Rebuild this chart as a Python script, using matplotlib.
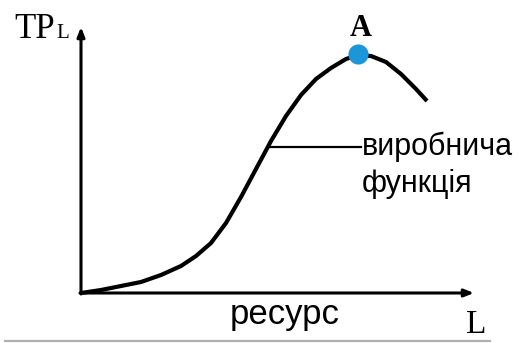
"""Total product curve (виробнича функція) sketch."""

import matplotlib

matplotlib.use("Agg")
import matplotlib.pyplot as plt

# curve (resource L, output TP)
labour = [0, 20, 40, 60, 80, 100, 115, 130, 145, 160, 175, 190, 205, 220, 235, 250,
          265, 277, 290, 305, 320, 335, 346]
output = [0, 3, 7, 11, 18, 27, 37, 50, 70, 96, 124, 152, 177, 198, 214, 225,
          234, 238, 237, 231, 219, 204, 192]
peak_l, peak_tp = 277, 239

fig = plt.figure(figsize=(5.22, 3.43), dpi=100)
ax = fig.add_axes([0, 0, 1, 1])
ax.set_xlim(-81, 441)
ax.set_ylim(-50, 293)
ax.axis("off")

arrow = dict(arrowstyle="-|>,head_length=0.55,head_width=0.22", lw=2.2, color="black",
             shrinkA=0, shrinkB=0)
ax.annotate("", xy=(0, 266), xytext=(0, -1), arrowprops=arrow)
ax.annotate("", xy=(393, 0), xytext=(-1, 0), arrowprops=arrow)

ax.plot(labour, output, color="black", lw=3, solid_capstyle="butt", solid_joinstyle="round")
ax.plot([peak_l], [peak_tp], "o", ms=14.5, color="#1b96d9", mec="none")

# leader line to the label
ax.plot([188, 280], [146, 146], color="black", lw=1.6)

serif = "Liberation Serif"
sans = "Liberation Sans"
ax.text(280, 257, "A", fontsize=22, fontweight="bold", family=serif, ha="center", va="baseline")
ax.text(-67, 255, "TP", fontsize=25, family=serif, ha="left", va="baseline")
ax.text(-25, 255, "L", fontsize=15, family=serif, ha="left", va="baseline")
ax.text(385, -40, "L", fontsize=24, family=serif, ha="left", va="baseline")
ax.text(281, 138, "виробнича", fontsize=22, family=sans, ha="left", va="baseline")
ax.text(281, 101, "функція", fontsize=22, family=sans, ha="left", va="baseline")
ax.text(204, -31, "ресурс", fontsize=25, family=sans, ha="center", va="baseline")

# thin grey rule along the bottom edge
ax.plot([-76, 409], [-48, -48], color="#b0b0b0", lw=1.6)

fig.savefig("out.png", dpi=100)
